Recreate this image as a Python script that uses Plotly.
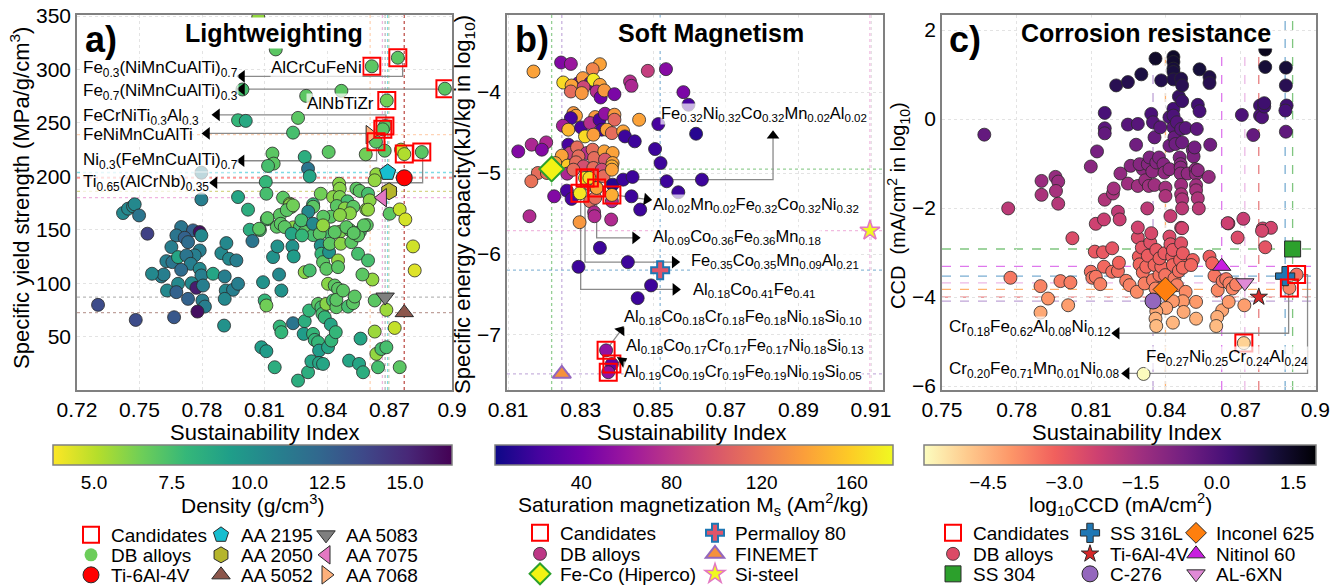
import plotly.graph_objects as go

# ------------------------------------------------------------------ data
# Panel a: Lightweighting (x = sustainability index, y = specific yield strength, colour = density)
a_x = [
    0.8070, 0.8154, 0.7994, 0.8469, 0.8300, 0.8261, 0.7973, 0.8010, 0.8237, 0.8677,
    0.8408, 0.8586, 0.8755, 0.8138, 0.8293, 0.8144, 0.8117, 0.8309, 0.8317, 0.8637,
    0.8629, 0.7797, 0.7797, 0.8106, 0.8458, 0.8461, 0.8541, 0.8557, 0.8597, 0.8370,
    0.8109, 0.8429, 0.8461, 0.8189, 0.8498, 0.8221, 0.8229, 0.8333, 0.8589, 0.8605,
    0.8701, 0.8749, 0.8776, 0.8021, 0.7973, 0.8174, 0.8222, 0.8207, 0.8334, 0.8310,
    0.8447, 0.8486, 0.8526, 0.8510, 0.8418, 0.8462, 0.8382, 0.8159, 0.8238, 0.8270,
    0.8294, 0.8334, 0.8375, 0.8414, 0.8462, 0.8510, 0.8558, 0.8591, 0.8078, 0.8111,
    0.8740, 0.8615, 0.8966, 0.8687, 0.8678, 0.8668, 0.8635, 0.8771, 0.8855, 0.7421,
    0.7445, 0.7469, 0.7477, 0.7498, 0.7538, 0.7700, 0.7757, 0.7789, 0.7677, 0.7797,
    0.7717, 0.7733, 0.7653, 0.7789, 0.7765, 0.7629, 0.7658, 0.7685, 0.7725, 0.7746,
    0.7700, 0.7789, 0.7797, 0.7605, 0.7616, 0.7560, 0.7750, 0.7685, 0.7632, 0.7677,
    0.7773, 0.7805, 0.7802, 0.7814, 0.7733, 0.7778, 0.7666, 0.7482, 0.7301, 0.7853,
    0.7893, 0.7917, 0.7930, 0.7965, 0.7914, 0.7909, 0.7949, 0.7909, 0.7973, 0.7906,
    0.8029, 0.8042, 0.8074, 0.8114, 0.8141, 0.8170, 0.8162, 0.8178, 0.8197, 0.8230,
    0.8234, 0.8240, 0.8237, 0.8280, 0.8277, 0.8293, 0.8317, 0.8333, 0.8365, 0.8370,
    0.8381, 0.8373, 0.8381, 0.8397, 0.8410, 0.8413, 0.8437, 0.8453, 0.8453, 0.8466,
    0.8493, 0.8517, 0.8549, 0.8549, 0.8577, 0.8597, 0.8618, 0.8597, 0.8813, 0.8821,
    0.8093, 0.8101, 0.8109, 0.8181, 0.8085, 0.8109, 0.8173, 0.8181, 0.8237, 0.8149,
    0.8261, 0.8293, 0.8288, 0.8309, 0.8325, 0.8314, 0.8333, 0.8341, 0.8357, 0.8362,
    0.8362, 0.8381, 0.8357, 0.8373, 0.8378, 0.8389, 0.8397, 0.8405, 0.8421, 0.8405,
    0.8418, 0.8429, 0.8437, 0.8453, 0.8445, 0.8445, 0.8442, 0.8477, 0.8501, 0.8525,
    0.8533, 0.8506, 0.8554, 0.8561, 0.8573, 0.8629, 0.8629, 0.8637, 0.8645, 0.8661,
    0.8685, 0.8685, 0.8725, 0.8749, 0.8570, 0.8528,
]
a_strength = [
    349, 318.8, 281.3, 280.0, 275.3, 254.7, 252.5, 251.9, 240.9, 224.0,
    222.8, 220.6, 225.0, 221.3, 218.1, 211.9, 209.7, 207.2, 200.0, 201.9,
    196.3, 203.4, 178.4, 194.7, 193.1, 188.4, 188.4, 186.3, 183.7, 183.7,
    183.7, 180.6, 180.6, 180.0, 176.6, 174.4, 171.3, 173.8, 169.0, 177.5,
    165.0, 169.0, 159.7, 168.8, 180.6, 163.8, 173.1, 168.4, 171.5, 166.9,
    172.2, 170.0, 171.5, 165.4, 162.2, 163.8, 162.2, 152.8, 152.2, 152.8,
    148.1, 145.0, 148.1, 146.6, 148.1, 149.7, 148.1, 154.4, 149.7, 159.7,
    311.0, 303.0, 282.0, 271.0, 247.0, 244.0, 232.4, 220.8, 222.7, 165.6,
    169.7, 171.9, 173.8, 163.4, 146.3, 152.5, 149.4, 147.8, 144.7, 144.7,
    142.5, 138.4, 133.8, 130.6, 126.0, 120.6, 119.7, 124.4, 126.0, 118.1,
    112.5, 113.4, 107.2, 106.3, 108.1, 108.8, 100.0, 99.4, 93.1, 91.6,
    95.6, 97.8, 83.8, 78.1, 85.3, 73.4, 68.1, 65.6, 79.7, 108.8,
    128.1, 137.5, 122.8, 121.3, 93.1, 106.3, 93.8, 85.3, 99.4, 60.3,
    150.0, 139.4, 150.9, 160.9, 124.4, 108.1, 134.4, 155.6, 152.5, 146.3,
    134.4, 125.0, 172.8, 144.7, 158.8, 110.3, 111.9, 155.6, 146.3, 135.3,
    154.1, 127.5, 119.7, 113.4, 129.1, 136.9, 147.8, 121.3, 115.0, 136.9,
    152.5, 138.4, 144.7, 127.5, 154.1, 121.3, 103.4, 168.8, 134.4, 111.9,
    100.9, 83.8, 79.1, 93.1, 40.0, 36.3, 59.4, 54.1, 62.5, 21.3,
    8.8, 64.4, 52.5, 16.6, 26.9, 74.4, 52.5, 46.9, 44.7, 36.9,
    25.3, 24.4, 80.6, 77.5, 71.3, 68.1, 80.6, 40.0, 46.3, 99.4,
    61.3, 83.8, 97.8, 94.7, 77.5, 84.4, 54.1, 93.1, 78.1, 81.3,
    87.5, 27.5, 24.4, 48.1, 16.6, 83.8, 54.7, 33.8, 21.3, 38.4,
    40.0, 75.0, 58.1, 21.4, 108.1, 146.9,
]
a_density = [
    5.8, 7.0, 7.5, 7.0, 7.0, 7.0, 8.0, 8.8, 7.5, 7.0,
    7.0, 6.5, 4.6, 7.0, 8.5, 7.0, 7.5, 11.5, 9.0, 5.8,
    5.8, 11.0, 11.0, 8.0, 6.0, 6.0, 7.0, 7.0, 7.5, 6.5,
    7.5, 6.0, 6.2, 7.0, 7.5, 6.0, 6.5, 8.0, 6.0, 6.0,
    7.0, 4.8, 4.5, 8.5, 9.0, 7.0, 6.0, 7.0, 7.0, 10.5,
    7.0, 6.0, 7.0, 6.0, 7.0, 6.0, 7.0, 7.0, 6.0, 7.5,
    7.0, 7.5, 6.0, 7.5, 6.2, 7.0, 7.5, 7.0, 7.5, 7.5,
    7.0, 7.0, 7.0, 6.5, 7.0, 7.0, 7.0, 5.2, 7.0, 10.5,
    10.5, 10.5, 10.5, 11.5, 14.0, 11.5, 12.5, 16.0, 11.5, 10.5,
    12.5, 12.0, 11.0, 11.0, 11.0, 11.0, 11.5, 9.0, 11.5, 11.0,
    12.0, 10.5, 11.0, 11.0, 11.0, 10.5, 10.5, 10.5, 10.5, 12.5,
    15.5, 11.0, 11.0, 11.0, 12.5, 16.0, 13.0, 13.5, 13.5, 9.0,
    10.5, 10.5, 10.5, 11.0, 10.5, 11.0, 11.0, 10.5, 11.0, 10.0,
    8.5, 11.5, 7.0, 7.0, 10.0, 10.5, 10.0, 7.0, 7.0, 9.0,
    10.0, 9.5, 6.5, 8.0, 7.5, 6.0, 7.5, 10.5, 7.0, 10.0,
    5.8, 8.0, 7.0, 7.0, 10.0, 7.0, 7.0, 5.8, 7.0, 6.0,
    7.0, 7.0, 7.0, 7.5, 7.0, 7.5, 5.8, 5.8, 4.6, 4.3,
    10.0, 8.0, 6.5, 10.0, 9.5, 9.5, 8.0, 8.0, 11.5, 8.5,
    8.5, 8.5, 9.5, 8.5, 9.0, 8.0, 8.0, 8.0, 8.0, 9.5,
    9.0, 9.0, 7.0, 7.5, 7.5, 8.0, 6.0, 9.0, 8.0, 6.0,
    9.0, 7.5, 7.0, 7.0, 7.0, 7.0, 8.0, 7.0, 7.5, 7.0,
    7.0, 9.0, 9.0, 9.0, 8.5, 7.0, 5.6, 5.8, 7.5, 7.5,
    7.5, 5.6, 4.8, 7.0, 7.0, 7.0,
]
a_cand_x = [0.8740, 0.8615, 0.8966, 0.8687, 0.8678, 0.8668, 0.8635, 0.8771, 0.8855]
a_cand_y = [311.0, 303.0, 282.0, 271.0, 247.0, 244.0, 232.4, 220.8, 222.7]
a_ref_names = ["Ti-6Al-4V", "AA 2195", "AA 2050", "AA 5052", "AA 5083", "AA 7075", "AA 7068"]
a_ref_x = [0.8771, 0.8691, 0.8698, 0.8771, 0.8679, 0.8666, 0.8607]
a_ref_y = [198.6, 203.6, 186.0, 72.4, 87.0, 180.0, 239.0]

# Panel b: Soft magnetism (y = log10 specific energy capacity, colour = Ms)
b_x = [
    0.8246, 0.8273, 0.8170, 0.8353, 0.8333, 0.8252, 0.8294, 0.8306, 0.8326, 0.8335,
    0.8353, 0.8275, 0.8308, 0.8273, 0.8303, 0.8344, 0.8355, 0.8365, 0.8393, 0.8436,
    0.8440, 0.8485, 0.8535, 0.8583, 0.8597, 0.8618, 0.8514, 0.8280, 0.8287, 0.8273,
    0.8251, 0.8266, 0.8301, 0.8340, 0.8326, 0.8352, 0.8367, 0.8393, 0.8393, 0.8358,
    0.8312, 0.8335, 0.8372, 0.8386, 0.8417, 0.8422, 0.8449, 0.8461, 0.8505, 0.8520,
    0.8165, 0.8128, 0.8205, 0.8193, 0.8266, 0.8271, 0.8290, 0.8317, 0.8294, 0.8333,
    0.8337, 0.8365, 0.8388, 0.8367, 0.8388, 0.8386, 0.8248, 0.8264, 0.8287, 0.8308,
    0.8335, 0.8358, 0.8230, 0.8182, 0.8164, 0.8207, 0.8263, 0.8280, 0.8317, 0.8326,
    0.8337, 0.8363, 0.8386, 0.8344, 0.8227, 0.8262, 0.8275, 0.8326, 0.8340, 0.8386,
    0.8388, 0.8417, 0.8443, 0.8440, 0.8464, 0.8537, 0.8569, 0.8634, 0.8159, 0.8297,
    0.8337, 0.8338, 0.8384, 0.8353, 0.8430, 0.8294, 0.8494, 0.8457, 0.8312, 0.8324,
    0.8344, 0.8298, 0.8386, 0.8370, 0.8386, 0.8376,
]
b_energy = [
    -3.634, -3.651, -3.745, -3.655, -3.716, -3.881, -3.889, -3.827, -3.889, -3.848,
    -3.910, -3.918, -3.938, -3.992, -4.012, -3.992, -4.066, -3.979, -4.025, -3.868,
    -3.922, -3.737, -3.716, -4.000, -4.156, -4.514, -4.395, -4.259, -4.292, -4.321,
    -4.415, -4.464, -4.436, -4.308, -4.382, -4.341, -4.267, -4.279, -4.341, -4.464,
    -4.547, -4.526, -4.464, -4.506, -4.485, -4.547, -4.608, -4.341, -4.703, -4.876,
    -4.649, -4.732, -4.621, -4.711, -4.649, -4.752, -4.682, -4.752, -4.793, -4.711,
    -4.814, -4.732, -4.752, -4.834, -4.876, -4.917, -4.785, -4.908, -4.867, -4.917,
    -4.937, -4.958, -4.876, -4.999, -5.101, -4.999, -5.007, -4.958, -5.081, -5.143,
    -5.040, -5.040, -4.958, -5.184, -5.287, -5.217, -5.319, -5.348, -5.307, -5.348,
    -5.143, -5.081, -5.048, -5.287, -5.451, -5.101, -5.237, -5.081, -5.533, -5.607,
    -5.484, -5.533, -5.574, -5.924, -6.100, -6.158, -6.388, -6.545, -5.060, -5.060,
    -5.184, -5.250, -5.270, -7.190, -7.360, -7.460,
]
b_ms = [
    48, 60, 140, 140, 125, 165, 45, 135, 40, 172,
    140, 140, 90, 112, 135, 75, 40, 135, 45, 75,
    70, 85, 50, 45, 22, 10, 22, 135, 140, 22,
    65, 150, 22, 135, 75, 22, 55, 135, 110, 22,
    165, 138, 140, 112, 140, 18, 18, 140, 18, 18,
    70, 48, 70, 48, 22, 88, 112, 75, 112, 112,
    112, 140, 140, 100, 140, 145, 140, 158, 112, 95,
    112, 92, 140, 112, 115, 112, 70, 112, 112, 108,
    112, 112, 140, 140, 48, 22, 22, 112, 112, 72,
    10, 18, 18, 18, 18, 18, 18, 18, 72, 135,
    72, 72, 72, 18, 18, 18, 18, 18, 170, 165,
    140, 170, 145, 55, 35, 55,
]
b_cand_x = [0.8312, 0.8324, 0.8344, 0.8298, 0.8386, 0.8370, 0.8386, 0.8376]
b_cand_y = [-5.060, -5.060, -5.184, -5.250, -5.270, -7.190, -7.360, -7.460]
b_ref_names = ["Permalloy 80", "FINEMET", "Fe-Co (Hiperco)", "Si-steel"]
b_ref_x = [0.8519, 0.8248, 0.8220, 0.9097]
b_ref_y = [-6.20, -7.48, -4.95, -5.71]

# Panel c: Corrosion resistance (y = log10 CCD, also used as colour)
c_x = [
    0.7670, 0.7766, 0.7900, 0.7900, 0.7956, 0.7967, 0.7958, 0.7967, 0.8098, 0.8123,
    0.8154, 0.8154, 0.8154, 0.8118, 0.8151, 0.8200, 0.8247, 0.8301, 0.8247, 0.8287,
    0.8280, 0.8217, 0.8207, 0.8214, 0.8154, 0.8187, 0.8190, 0.8258, 0.8247, 0.8287,
    0.8307, 0.8294, 0.8317, 0.8327, 0.8331, 0.8325, 0.8341, 0.8354, 0.8348, 0.8358,
    0.8377, 0.8381, 0.8334, 0.8345, 0.8354, 0.8361, 0.8372, 0.8390, 0.8394, 0.8398,
    0.8398, 0.8414, 0.8414, 0.8414, 0.8418, 0.8430, 0.8430, 0.8430, 0.8430, 0.8430,
    0.8430, 0.8430, 0.8430, 0.8434, 0.8438, 0.8444, 0.8452, 0.8465, 0.8461, 0.8465,
    0.8461, 0.8465, 0.8455, 0.8459, 0.8459, 0.8459, 0.8461, 0.8461, 0.8465, 0.8465,
    0.8461, 0.8487, 0.8479, 0.8508, 0.8511, 0.8515, 0.8519, 0.8521, 0.8521, 0.8521,
    0.8528, 0.8532, 0.8524, 0.8528, 0.8535, 0.8535, 0.8572, 0.8578, 0.8575, 0.8575,
    0.8528, 0.8651, 0.8711, 0.8705, 0.8751, 0.8778, 0.8778, 0.8786, 0.8795, 0.8795,
    0.8799, 0.8799, 0.8789, 0.8822, 0.8882, 0.8882, 0.8885, 0.8880, 0.8882, 0.7775,
    0.7896, 0.7926, 0.7896, 0.7976, 0.8016, 0.8007, 0.8024, 0.8098, 0.8104, 0.8118,
    0.8136, 0.8114, 0.8147, 0.8151, 0.8184, 0.8184, 0.8207, 0.8211, 0.8240, 0.8254,
    0.8283, 0.8287, 0.8287, 0.8291, 0.8294, 0.8303, 0.8307, 0.8314, 0.8321, 0.8327,
    0.8337, 0.8341, 0.8348, 0.8358, 0.8361, 0.8354, 0.8374, 0.8381, 0.8374, 0.8394,
    0.8397, 0.8414, 0.8418, 0.8425, 0.8428, 0.8428, 0.8434, 0.8444, 0.8452, 0.8457,
    0.8461, 0.8465, 0.8468, 0.8468, 0.8479, 0.8468, 0.8471, 0.8428, 0.8401, 0.8428,
    0.8361, 0.8358, 0.8361, 0.8508, 0.8501, 0.8521, 0.8521, 0.8575, 0.8586, 0.8595,
    0.8608, 0.8626, 0.8606, 0.8602, 0.8628, 0.8642, 0.8648, 0.8655, 0.8668, 0.8682,
    0.8688, 0.8652, 0.8715, 0.8786, 0.8799, 0.8713, 0.8310, 0.8925, 0.8896,
]
c_logccd = [
    -0.350, -2.008, -1.390, -1.703, -1.299, -1.405, -1.616, -1.902, -1.066, -0.727,
    0.139, -0.207, -0.320, -2.354, -2.256, 0.757, 0.832, 1.006, -0.124, -0.109,
    -0.576, -1.224, -2.083, -2.256, -1.812, -1.673, -1.560, -1.051, -1.450, -1.503,
    -1.126, -1.013, -1.375, -1.013, -1.503, -2.008, 0.117, -0.411, -0.072, 1.360,
    -0.185, 0.870, -0.863, -1.179, -1.480, -0.976, -0.863, -1.013, -1.201, -1.541,
    -1.729, -1.126, -0.599, 0.041, -2.181, 1.397, 1.284, 1.134, 1.058, 0.893,
    0.230, 0.079, -0.185, -0.411, -0.561, -0.072, 0.508, 0.403, 0.908, 0.757,
    -0.222, -0.524, -0.863, -1.013, -1.089, -1.224, -1.480, -1.691, -1.804, -2.008,
    -2.444, -1.224, -0.200, -0.697, -0.840, -0.637, -1.126, -1.239, -1.488, -1.601,
    -1.782, -2.008, -0.222, 0.320, 0.177, 1.119, -1.299, -0.576, 0.945, 0.810,
    -1.149, -2.346, -2.241, 0.094, -0.358, 0.305, 0.079, 0.041, 0.282, 0.358,
    1.171, 1.563, -2.459, -2.444, 1.156, 0.757, 0.305, 0.192, -0.283, -3.567,
    -3.755, -4.034, -4.350, -3.642, -3.672, -4.185, -2.678, -3.431, -3.567, -3.544,
    -3.710, -2.979, -2.994, -3.318, -2.904, -3.431, -3.416, -3.228, -3.635, -3.733,
    -3.883, -2.663, -2.437, -3.092, -3.266, -2.889, -3.446, -3.695, -3.318, -3.070,
    -2.776, -2.565, -3.620, -3.808, -2.942, -3.281, -3.507, -3.318, -3.130, -3.017,
    -3.507, -2.640, -2.814, -3.092, -2.942, -3.281, -3.582, -3.733, -3.416, -3.168,
    -2.791, -2.452, -3.017, -3.341, -3.883, -4.094, -4.335, -4.094, -4.245, -4.576,
    -4.320, -4.486, -4.652, -3.168, -3.281, -4.109, -4.486, -3.092, -3.243, -3.522,
    -3.846, -4.298, -4.448, -4.652, -3.642, -3.597, -2.339, -3.695, -3.808, -3.718,
    -2.663, -4.109, -4.185, -2.512, -2.881, -5.036, -5.729, -3.496, -3.797,
]
c_cand_x = [0.8925, 0.8896, 0.8713]
c_cand_y = [-3.496, -3.797, -5.036]
c_ref_names = ["SS 304", "SS 316L", "Ti-6Al-4V", "C-276", "Inconel 625", "Nitinol 60", "AL-6XN"]
c_ref_x = [0.8909, 0.8879, 0.8773, 0.8348, 0.8398, 0.8624, 0.8717]
c_ref_y = [-2.92, -3.53, -4.00, -4.09, -3.83, -3.31, -3.68]

# tick labels
a_xticks = [0.72, 0.75, 0.78, 0.81, 0.84, 0.87, 0.90]
a_xticktext = ["0.72", "0.75", "0.78", "0.81", "0.84", "0.87", "0.9"]
a_yticks = [50, 100, 150, 200, 250, 300, 350]
b_xticks = [0.81, 0.83, 0.85, 0.87, 0.89, 0.91]
b_yticks = [-7, -6, -5, -4]
c_xticks = [0.75, 0.78, 0.81, 0.84, 0.87, 0.90]
c_xticktext = ["0.75", "0.78", "0.81", "0.84", "0.87", "0.9"]
c_yticks = [-6, -4, -2, 0, 2]

assert len(a_x) == len(a_strength) == len(a_density)
assert len(b_x) == len(b_energy) == len(b_ms)
assert len(c_x) == len(c_logccd)

# ------------------------------------------------------------------ styles / layout helpers
W, H = 1336, 587
TOP, BOT = 15, 390
FONT = "Liberation Sans, Arial, sans-serif"


def px(p):
    return p / W


def py(p):
    return (BOT - p) / (BOT - TOP)


A_REF_STYLE = {
    "Ti-6Al-4V": dict(symbol="circle", color="#ff0000", size=16),
    "AA 2195": dict(symbol="pentagon", color="#17becf", size=17),
    "AA 2050": dict(symbol="hexagon", color="#b5b52b", size=17),
    "AA 5052": dict(symbol="triangle-up", color="#8c564b", size=16),
    "AA 5083": dict(symbol="triangle-down", color="#7f7f7f", size=16),
    "AA 7075": dict(symbol="triangle-left", color="#e377c2", size=16),
    "AA 7068": dict(symbol="triangle-right", color="#fdb07a", size=16),
}
B_REF_STYLE = {
    "Permalloy 80": dict(symbol="cross", color="#e0556a", size=15, lc="#1f77b4", lw=2),
    "FINEMET": dict(symbol="triangle-up", color="#f5913b", size=16, lc="#9467bd", lw=2),
    "Fe-Co (Hiperco)": dict(symbol="diamond", color="#f3f314", size=19, lc="#2ca02c", lw=2),
    "Si-steel": dict(symbol="star", color="#f0f921", size=15, lc="#e377c2", lw=1.5),
}
B_LINE_COLOR = {"Permalloy 80": "#1f77b4", "FINEMET": "#9467bd",
                "Fe-Co (Hiperco)": "#2ca02c", "Si-steel": "#e377c2"}
C_REF_STYLE = {
    "SS 304": dict(symbol="square", color="#2ca02c", size=16),
    "SS 316L": dict(symbol="cross", color="#1f77b4", size=16),
    "Ti-6Al-4V": dict(symbol="star", color="#d62728", size=13),
    "C-276": dict(symbol="circle", color="#9467bd", size=16),
    "Inconel 625": dict(symbol="diamond", color="#ff7f0e", size=19),
    "Nitinol 60": dict(symbol="triangle-up", color="#c81ee0", size=16),
    "AL-6XN": dict(symbol="triangle-down", color="#e08ad6", size=16),
}


def rgba(hexc, a):
    h = hexc.lstrip("#")
    return "rgba(%d,%d,%d,%.2f)" % (int(h[0:2], 16), int(h[2:4], 16), int(h[4:6], 16), a)


fig = go.Figure()
shapes = []
annotations = []
legends = {}
legend_counter = [0]


def new_legend(text_x, row_y):
    legend_counter[0] += 1
    name = "legend" if legend_counter[0] == 1 else "legend%d" % legend_counter[0]
    legends[name] = dict(
        x=px(text_x - 42), y=py(row_y), xanchor="left", yanchor="middle",
        bgcolor="rgba(0,0,0,0)", borderwidth=0,
        font=dict(family=FONT, size=19, color="black"),
    )
    return name


def ref_lines(xref, yref, xs, ys, colors, dash, width, alpha):
    for xv, yv, col in zip(xs, ys, colors):
        shapes.append(dict(type="line", xref=xref, yref=yref + " domain", x0=xv, x1=xv, y0=0, y1=1,
                           line=dict(color=rgba(col, alpha), dash=dash, width=width), layer="below"))
        shapes.append(dict(type="line", xref=xref + " domain", yref=yref, x0=0, x1=1, y0=yv, y1=yv,
                           line=dict(color=rgba(col, alpha), dash=dash, width=width), layer="below"))


def arrow_lines(xa, ya, arrows):
    for pxs, pys, ang in arrows:
        fig.add_trace(go.Scatter(x=pxs, y=pys, xaxis=xa, yaxis=ya, mode="lines",
                                 line=dict(color="#8a8a8a", width=1.3), hoverinfo="skip", showlegend=False))


def arrow_heads(xa, ya, arrows):
    for pxs, pys, ang in arrows:
        fig.add_trace(go.Scatter(x=[pxs[-1]], y=[pys[-1]], xaxis=xa, yaxis=ya, mode="markers",
                                 marker=dict(symbol="triangle-up", angle=ang, size=11, color="black",
                                             line=dict(width=0)),
                                 hoverinfo="skip", showlegend=False))


def label(xref, yref, text, x, y, anchor, size=17):
    annotations.append(dict(xref=xref, yref=yref, x=x, y=y, text=text, showarrow=False,
                            xanchor=anchor, yanchor="middle",
                            font=dict(family=FONT, size=size, color="black"),
                            bgcolor="rgba(255,255,255,0.7)", borderpad=0))


def colorbar(cx, length, title, **ticks):
    # colorbar title drawn as an annotation just below the tick labels
    annotations.append(dict(xref="paper", yref="paper", x=px(cx), y=py(504), text=title, showarrow=False,
                            xanchor="center", yanchor="middle",
                            font=dict(family=FONT, size=21, color="black")))
    return dict(orientation="h", x=px(cx), xanchor="center", y=py(445), yanchor="top",
                len=length, lenmode="pixels", thickness=20, thicknessmode="pixels",
                outlinecolor="#808080", outlinewidth=1.5, xpad=0, ypad=0, ticks="",
                tickfont=dict(family=FONT, size=19, color="black"), **ticks)


DB_LINE = dict(color="#2a2a2a", width=0.8)

# ------------------------------------------------------------------ panel a
ref_lines("x", "y", a_ref_x, a_ref_y, [A_REF_STYLE[n]["color"] for n in a_ref_names], "dot", 1.3, 0.55)

a_arrows = [
    ([0.8763, 0.8763, 0.7992], [306.0, 293.6, 293.6], 270),
    ([0.8966, 0.7992], [281.7, 281.7], 270),
    ([0.8683, 0.8683, 0.7872], [249.0, 257.6, 257.6], 270),
    ([0.8678, 0.8678, 0.7824], [245.0, 240.2, 240.2], 270),
    ([0.8638, 0.8638, 0.7990], [232.4, 214.6, 214.6], 270),
    ([0.8859, 0.8859, 0.7860], [222.7, 194.0, 194.0], 270),
]
arrow_lines("x", "y", a_arrows)

fig.add_trace(go.Scatter(
    x=a_x, y=a_strength, xaxis="x", yaxis="y", mode="markers", showlegend=False, name="DB alloys",
    marker=dict(size=13, color=a_density, colorscale="Viridis_r", cmin=3.68, cmax=16.51, line=DB_LINE,
                colorbar=colorbar(252.5, 399, "Density (g/cm<sup>3</sup>)",
                                  tickvals=[5, 7.5, 10, 12.5, 15],
                                  ticktext=["5.0", "7.5", "10.0", "12.5", "15.0"]))))

a_slots = {"Ti-6Al-4V": (113, 575), "AA 2195": (243, 535), "AA 2050": (243, 555), "AA 5052": (243, 575),
           "AA 5083": (348, 535), "AA 7075": (348, 555), "AA 7068": (348, 575)}
for name, xv, yv in zip(a_ref_names, a_ref_x, a_ref_y):
    st = A_REF_STYLE[name]
    fig.add_trace(go.Scatter(x=[xv], y=[yv], xaxis="x", yaxis="y", mode="markers", name=name,
                             legend=new_legend(*a_slots[name]),
                             marker=dict(symbol=st["symbol"], color=st["color"], size=st["size"],
                                         line=dict(color="#2a2a2a", width=1))))

fig.add_trace(go.Scatter(x=a_cand_x, y=a_cand_y, xaxis="x", yaxis="y", mode="markers", name="Candidates",
                         legend=new_legend(113, 535),
                         marker=dict(symbol="square-open", size=17, color="#ff0000", line=dict(width=2))))
fig.add_trace(go.Scatter(x=[None], y=[None], xaxis="x", yaxis="y", mode="markers", name="DB alloys",
                         legend=new_legend(113, 555),
                         marker=dict(symbol="circle", size=13, color="#6ccd5a", line=dict(width=0))))
arrow_heads("x", "y", a_arrows)

a_labels = [
    ("Fe<sub>0.3</sub>(NiMnCuAlTi)<sub>0.7</sub>", 0.7224, 300.0, "left"),
    ("Fe<sub>0.7</sub>(NiMnCuAlTi)<sub>0.3</sub>", 0.7224, 278.5, "left"),
    ("FeCrNiTi<sub>0.3</sub>Al<sub>0.3</sub>", 0.7224, 256.0, "left"),
    ("FeNiMnCuAlTi", 0.7224, 239.6, "left"),
    ("Ni<sub>0.3</sub>(FeMnCuAlTi)<sub>0.7</sub>", 0.7224, 214.0, "left"),
    ("Ti<sub>0.65</sub>(AlCrNb)<sub>0.35</sub>", 0.7224, 193.6, "left"),
    ("AlCrCuFeNi", 0.8573, 301.8, "right"),
    ("AlNbTiZr", 0.8630, 268.1, "right"),
]
for t, xv, yv, anc in a_labels:
    label("x", "y", t, xv, yv, anc)

# ------------------------------------------------------------------ panel b
ref_lines("x2", "y2", b_ref_x, b_ref_y, [B_LINE_COLOR[n] for n in b_ref_names], "dot", 1.3, 0.5)

b_arrows = [
    ([0.8324, 0.8830, 0.8830], [-5.081, -5.081, -4.539], 0),
    ([0.8386, 0.8482], [-5.267, -5.324], 98),
    ([0.8344, 0.8344, 0.8450], [-5.184, -5.800, -5.800], 90),
    ([0.8312, 0.8312, 0.8559], [-5.060, -6.099, -6.099], 90),
    ([0.8300, 0.8300, 0.8561], [-5.245, -6.438, -6.438], 90),
    ([0.8370, 0.8411], [-7.190, -6.943], 37),
    ([0.8386, 0.8415], [-7.363, -7.322], 60),
]
arrow_lines("x2", "y2", b_arrows)

fig.add_trace(go.Scatter(
    x=b_x, y=b_energy, xaxis="x2", yaxis="y2", mode="markers", showlegend=False, name="DB alloys",
    marker=dict(size=13, color=b_ms, colorscale="Plasma", cmin=1.5, cmax=178.0, line=DB_LINE,
                colorbar=colorbar(693.5, 398, "Saturation magnetization M<sub>s</sub> (Am<sup>2</sup>/kg)",
                                  tickvals=[40, 80, 120, 160]))))

b_slots = {"Permalloy 80": (737, 533), "FINEMET": (737, 554), "Fe-Co (Hiperco)": (562, 574), "Si-steel": (737, 574)}
for name, xv, yv in zip(b_ref_names, b_ref_x, b_ref_y):
    st = B_REF_STYLE[name]
    fig.add_trace(go.Scatter(x=[xv], y=[yv], xaxis="x2", yaxis="y2", mode="markers", name=name,
                             legend=new_legend(*b_slots[name]),
                             marker=dict(symbol=st["symbol"], color=st["color"], size=st["size"],
                                         line=dict(color=st["lc"], width=st["lw"]))))
fig.add_trace(go.Scatter(x=b_cand_x, y=b_cand_y, xaxis="x2", yaxis="y2", mode="markers", name="Candidates",
                         legend=new_legend(562, 533),
                         marker=dict(symbol="square-open", size=17, color="#ff0000", line=dict(width=2))))
fig.add_trace(go.Scatter(x=[None], y=[None], xaxis="x2", yaxis="y2", mode="markers", name="DB alloys",
                         legend=new_legend(562, 554),
                         marker=dict(symbol="circle", size=13, color="#bd3786", line=dict(color="#2a2a2a", width=0.8))))
arrow_heads("x2", "y2", b_arrows)

b_labels = [
    ("Fe<sub>0.32</sub>Ni<sub>0.32</sub>Co<sub>0.32</sub>Mn<sub>0.02</sub>Al<sub>0.02</sub>", 0.8519, -4.268),
    ("Al<sub>0.02</sub>Mn<sub>0.02</sub>Fe<sub>0.32</sub>Co<sub>0.32</sub>Ni<sub>0.32</sub>", 0.8496, -5.400),
    ("Al<sub>0.09</sub>Co<sub>0.36</sub>Fe<sub>0.36</sub>Mn<sub>0.18</sub>", 0.8496, -5.784),
    ("Fe<sub>0.35</sub>Co<sub>0.35</sub>Mn<sub>0.09</sub>Al<sub>0.21</sub>", 0.8601, -6.092),
    ("Al<sub>0.18</sub>Co<sub>0.41</sub>Fe<sub>0.41</sub>", 0.8606, -6.444),
    ("Al<sub>0.18</sub>Co<sub>0.18</sub>Cr<sub>0.18</sub>Fe<sub>0.18</sub>Ni<sub>0.18</sub>Si<sub>0.10</sub>", 0.8417, -6.777),
    ("Al<sub>0.18</sub>Co<sub>0.17</sub>Cr<sub>0.17</sub>Fe<sub>0.17</sub>Ni<sub>0.18</sub>Si<sub>0.13</sub>", 0.8422, -7.137),
    ("Al<sub>0.19</sub>Co<sub>0.19</sub>Cr<sub>0.19</sub>Fe<sub>0.19</sub>Ni<sub>0.19</sub>Si<sub>0.05</sub>", 0.8417, -7.455),
]
for t, xv, yv in b_labels:
    label("x2", "y2", t, xv, yv, "left", size=16.5)

# ------------------------------------------------------------------ panel c
ref_lines("x3", "y3", c_ref_x, c_ref_y, [C_REF_STYLE[n]["color"] for n in c_ref_names], "dash", 1.3, 0.6)

c_arrows = [
    ([0.8896, 0.8893, 0.8893, 0.8202], [-3.797, -3.797, -4.814, -4.814], 270),
    ([0.8925, 0.8969, 0.8969, 0.8242], [-3.496, -3.496, -5.718, -5.718], 270),
]
arrow_lines("x3", "y3", c_arrows)

fig.add_trace(go.Scatter(
    x=c_x, y=c_logccd, xaxis="x3", yaxis="y3", mode="markers", showlegend=False, name="DB alloys",
    marker=dict(size=13, color=c_logccd, colorscale="Magma_r", cmin=-5.76, cmax=1.95, line=DB_LINE,
                colorbar=colorbar(1120, 392, "log<sub>10</sub>CCD (mA/cm<sup>2</sup>)",
                                  tickvals=[-4.5, -3.0, -1.5, 0.0, 1.5], tickformat=".1f"))))

c_slots = {"SS 304": (975, 574), "SS 316L": (1112, 533), "Ti-6Al-4V": (1112, 554), "C-276": (1112, 574),
           "Inconel 625": (1218, 533), "Nitinol 60": (1218, 554), "AL-6XN": (1218, 574)}
for name, xv, yv in zip(c_ref_names, c_ref_x, c_ref_y):
    st = C_REF_STYLE[name]
    fig.add_trace(go.Scatter(x=[xv], y=[yv], xaxis="x3", yaxis="y3", mode="markers", name=name,
                             legend=new_legend(*c_slots[name]),
                             marker=dict(symbol=st["symbol"], color=st["color"], size=st["size"],
                                         line=dict(color="#2a2a2a", width=1))))
fig.add_trace(go.Scatter(x=c_cand_x, y=c_cand_y, xaxis="x3", yaxis="y3", mode="markers", name="Candidates",
                         legend=new_legend(975, 533),
                         marker=dict(symbol="square-open", size=17, color="#ff0000", line=dict(width=2))))
fig.add_trace(go.Scatter(x=[None], y=[None], xaxis="x3", yaxis="y3", mode="markers", name="DB alloys",
                         legend=new_legend(975, 554),
                         marker=dict(symbol="circle", size=13, color="#dc4a66", line=dict(color="#2a2a2a", width=0.8))))
arrow_heads("x3", "y3", c_arrows)

c_labels = [
    ("Cr<sub>0.18</sub>Fe<sub>0.62</sub>Al<sub>0.08</sub>Ni<sub>0.12</sub>", 0.8182, -4.70, "right"),
    ("Fe<sub>0.27</sub>Ni<sub>0.25</sub>Cr<sub>0.24</sub>Al<sub>0.24</sub>", 0.8314, -5.367, "left"),
    ("Cr<sub>0.20</sub>Fe<sub>0.71</sub>Mn<sub>0.01</sub>Ni<sub>0.08</sub>", 0.8214, -5.638, "right"),
]
for t, xv, yv, anc in c_labels:
    label("x3", "y3", t, xv, yv, anc)

# ------------------------------------------------------------------ titles, axis titles
for txt, cx in [("Lightweighting", 274), ("Soft Magnetism", 711), ("Corrosion resistance", 1146)]:
    annotations.append(dict(xref="paper", yref="paper", x=px(cx), y=py(33), text="<b>%s</b>" % txt,
                            showarrow=False, xanchor="center", yanchor="middle", bgcolor="white",
                            font=dict(family=FONT, size=25, color="black")))
for txt, lx in [("a)", 83), ("b)", 513), ("c)", 947)]:
    annotations.append(dict(xref="paper", yref="paper", x=px(lx), y=py(40), text="<b>%s</b>" % txt,
                            showarrow=False, xanchor="left", yanchor="middle",
                            font=dict(family=FONT, size=36, color="black")))
for cx in [265, 692, 1127]:
    annotations.append(dict(xref="paper", yref="paper", x=px(cx), y=py(432), text="Sustainability Index",
                            showarrow=False, xanchor="center", yanchor="middle",
                            font=dict(family=FONT, size=22, color="black")))
for txt, cx, cy, fs in [("Specific yield strength (MPa/g/cm<sup>3</sup>)", 20, 198, 22),
                        ("Specific energy capacity(kJ/kg in log<sub>10</sub>)", 464, 205, 22),
                        ("CCD  (mA/cm<sup>2</sup> in log<sub>10</sub>)", 898, 206, 20)]:
    annotations.append(dict(xref="paper", yref="paper", x=px(cx), y=py(cy), text=txt, textangle=-90,
                            showarrow=False, xanchor="center", yanchor="middle",
                            font=dict(family=FONT, size=fs, color="black")))

axis_common = dict(showline=True, linecolor="#808080", linewidth=1.5, mirror=True, showgrid=True,
                   gridcolor="#e3e3e3", griddash="dot", gridwidth=1, zeroline=False, ticks="",
                   tickfont=dict(family=FONT, size=21, color="black"), automargin=False)

layout = dict(
    width=W, height=H, plot_bgcolor="white", paper_bgcolor="white",
    margin=dict(l=0, r=0, t=TOP, b=H - BOT, autoexpand=False),
    font=dict(family=FONT, color="black"),
    xaxis=dict(axis_common, domain=[px(77), px(452)], range=[0.72, 0.90], tickvals=a_xticks,
               ticktext=a_xticktext, anchor="y"),
    yaxis=dict(axis_common, domain=[0, 1], range=[0, 351], tickvals=a_yticks, anchor="x"),
    xaxis2=dict(axis_common, domain=[px(507), px(883)], range=[0.8097, 0.9133], tickvals=b_xticks,
                tickformat=".2f", anchor="y2"),
    yaxis2=dict(axis_common, domain=[0, 1], range=[-7.68, -3.047], tickvals=b_yticks, anchor="x2"),
    xaxis3=dict(axis_common, domain=[px(942), px(1316)], range=[0.75, 0.9003], tickvals=c_xticks,
                ticktext=c_xticktext, anchor="y3"),
    yaxis3=dict(axis_common, domain=[0, 1], range=[-6.09, 2.34], tickvals=c_yticks, anchor="x3"),
    shapes=shapes, annotations=annotations, showlegend=True,
)
layout.update(legends)
fig.update_layout(**layout)
# the page body has a default 8px margin; remove it so the figure sits at the window origin
fig.write_html("out.html", config={"displayModeBar": False},
               post_script="document.body.style.margin='0';")
